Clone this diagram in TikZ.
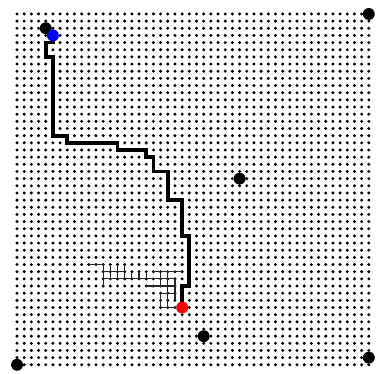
\documentclass[tikz,border=0pt]{standalone}
\usetikzlibrary{calc}

\begin{document}
\begin{tikzpicture}[x=0.1436cm,y=0.1432cm,
  every node/.style={circle,inner sep=0pt,minimum size=6.8pt},
  landmark/.style={fill=black},
  goaldot/.style={fill=blue},
  startdot/.style={fill=red},
  route/.style={line width=2.1pt,line join=miter},
  branch/.style={line width=0.65pt,black!85}]
  \useasboundingbox (-2.37,-1.28) rectangle (50.42,50.95);
  % lattice
  \foreach \i in {0,...,49}
    \foreach \j in {0,...,49}
      \fill (\i,\j) circle[radius=0.95pt];
  \coordinate (goal) at (5,46);
  \coordinate (start) at (23,8);
  % search tree
  \draw[branch] (10,14) -- (12,14) -- (12,11);
  \foreach \i in {13,14,15}
    \draw[branch] (\i,14) -- (\i,12);
  \draw[branch] (12,13) -- (15,13);
  \draw[branch] (12,12) -- (22,12);
  \foreach \i in {16,17,18}
    \draw[branch] (\i,13) -- (\i,12);
  \draw[branch] (19,13) -- (23,13);
  \draw[branch] (20,13) -- (20,11);
  \draw[branch] (21,13) -- (21,8);
  \draw[branch] (18,11) -- (22,11);
  \draw[branch] (22,12) -- (22,9);
  \draw[branch] (20,10) -- (22,10);
  \draw[branch] (20,10) -- (20,8) -- (start);
  % path found
  \draw[route] (goal) -- (5,45) -- (4,45) -- (4,43) -- (5,43) -- (5,32)
    -- (7,32) -- (7,31) -- (14,31) -- (14,30) -- (18,30) -- (18,29)
    -- (19,29) -- (19,27) -- (21,27) -- (21,23) -- (23,23) -- (23,18)
    -- (24,18) -- (24,11) -- (23,11) -- (start);
  % landmarks
  \node[landmark] (l1) at (0,0) {};
  \node[landmark] (l2) at (49,49) {};
  \node[landmark] (l3) at (4,47) {};
  \node[landmark] (l4) at (31,26) {};
  \node[landmark] (l5) at (26,4) {};
  \node[landmark] (l6) at (49,1) {};
  \node[goaldot] (g) at (goal) {};
  \node[startdot] (s) at (start) {};
\end{tikzpicture}
\end{document}
